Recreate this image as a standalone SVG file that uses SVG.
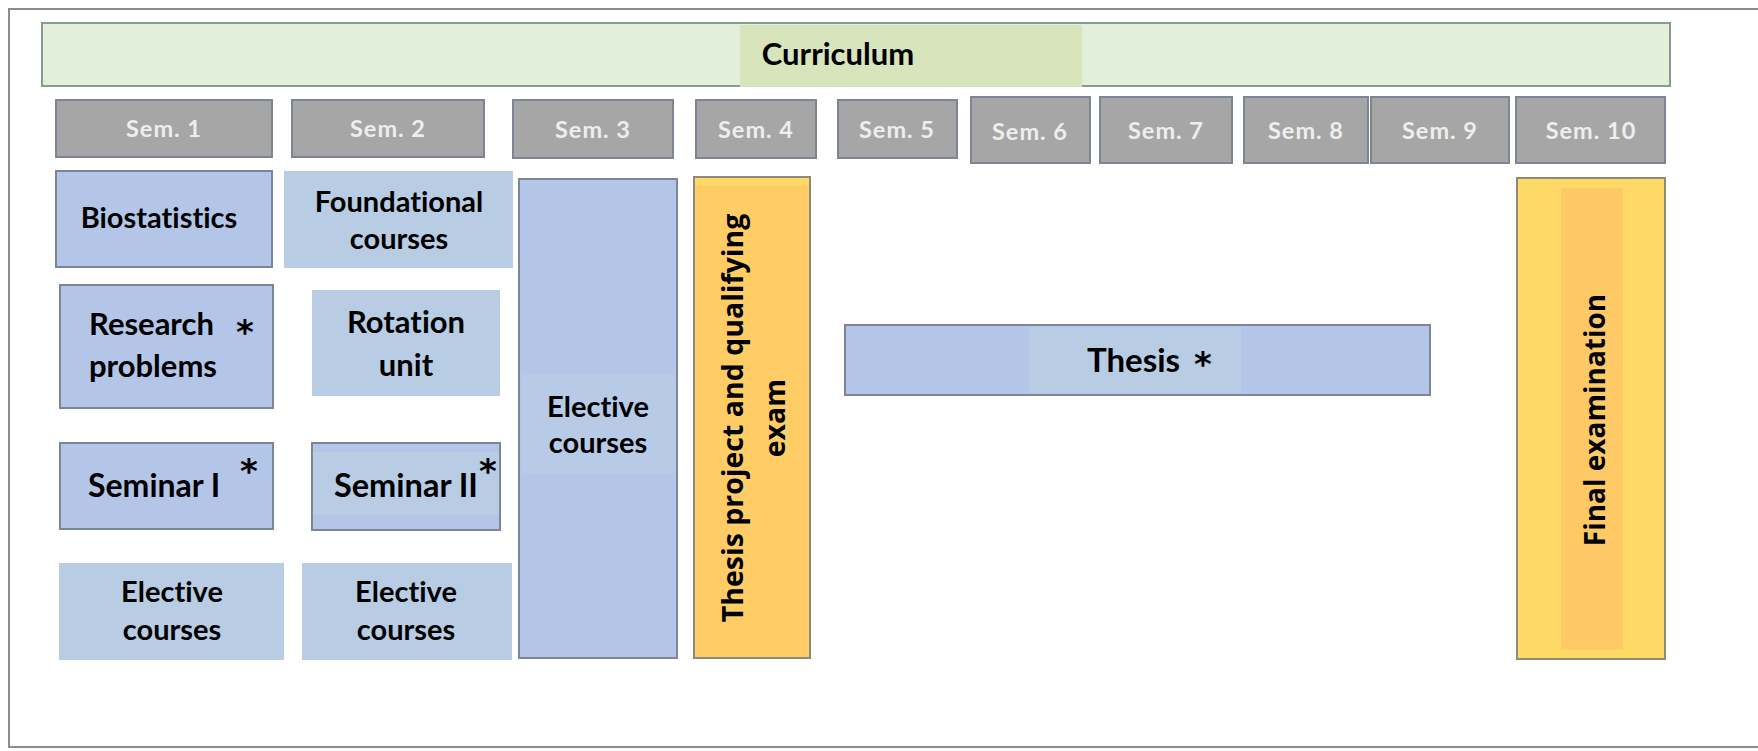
<svg xmlns="http://www.w3.org/2000/svg" width="1758" height="751" viewBox="0 0 1758 751">
<style>
.frame{fill:#ffffff;stroke:#8c8c8c;stroke-width:2}
.sem{fill:#a6a6a6;stroke:#7d8590;stroke-width:2}
.semt{font-family:Lato,"Open Sans",sans-serif;font-weight:bold;font-size:23.5px;fill:#eeeeee;text-anchor:middle;letter-spacing:1px}
.blue{fill:#b4c6e7;stroke:#7b8799;stroke-width:2}
.blue2{fill:#b8cce4;stroke:none}
.lbl{font-family:Lato,"Liberation Sans",sans-serif;font-weight:bold;font-size:29px;fill:#000;font-variant-ligatures:none;font-feature-settings:"liga" 0}
.ast{font-family:"DejaVu Sans",sans-serif;font-weight:bold;font-size:34px;fill:#000}
.mid{text-anchor:middle}
.vt{font-family:"Open Sans","DejaVu Sans",sans-serif;font-weight:bold;font-size:28.5px;fill:#000;text-anchor:middle}
.yel{fill:#ffcc66;stroke:#8c8a78;stroke-width:2}
.yel2{fill:#ffd966;stroke:#8c8a78;stroke-width:2}
</style>
<rect class="frame" x="9" y="9" width="1780" height="738"/>
<g id="curriculum">
<rect x="42" y="23" width="1628" height="63" fill="#e2efda" stroke="#8a9a8c" stroke-width="2"/>
<rect x="740" y="25" width="342" height="62" fill="#d8e4bc"/>
<text class="lbl mid" x="838" y="65" style="font-size:31px">Curriculum</text>
</g>
<g id="sem1"><rect class="sem" x="56" y="100" width="216" height="57"/><text class="semt" x="164" y="137">Sem. 1</text></g>
<g id="sem2"><rect class="sem" x="292" y="100" width="192" height="57"/><text class="semt" x="388" y="137">Sem. 2</text></g>
<g id="sem3"><rect class="sem" x="513" y="100" width="160" height="58"/><text class="semt" x="593" y="138">Sem. 3</text></g>
<g id="sem4"><rect class="sem" x="696" y="100" width="120" height="58"/><text class="semt" x="756" y="138">Sem. 4</text></g>
<g id="sem5"><rect class="sem" x="838" y="100" width="119" height="58"/><text class="semt" x="897" y="138">Sem. 5</text></g>
<g id="sem6"><rect class="sem" x="971" y="97" width="119" height="66"/><text class="semt" x="1030" y="140">Sem. 6</text></g>
<g id="sem7"><rect class="sem" x="1100" y="97" width="132" height="66"/><text class="semt" x="1166" y="139">Sem. 7</text></g>
<g id="sem8"><rect class="sem" x="1244" y="97" width="124" height="66"/><text class="semt" x="1306" y="139">Sem. 8</text></g>
<g id="sem9"><rect class="sem" x="1371" y="97" width="138" height="66"/><text class="semt" x="1440" y="139">Sem. 9</text></g>
<g id="sem10"><rect class="sem" x="1516" y="97" width="149" height="66"/><text class="semt" x="1591" y="139">Sem. 10</text></g>
<g id="biostatistics">
<rect class="blue" x="56" y="171" width="216" height="96"/>
<text class="lbl mid" x="159" y="228">Biostatistics</text>
</g>
<g id="foundational">
<rect class="blue2" x="284" y="171" width="229" height="97"/>
<text class="lbl mid" x="399" y="212">Foundational</text>
<text class="lbl mid" x="399" y="249">courses</text>
</g>
<g id="research">
<rect class="blue" x="60" y="285" width="213" height="123"/>
<text class="lbl" x="89" y="335" style="font-size:31px">Research</text>
<text class="lbl" x="89" y="377" style="font-size:31px">problems</text>
<text class="ast" x="236" y="344">*</text>
</g>
<g id="rotation">
<rect class="blue2" x="312" y="290" width="188" height="106" stroke="#c9d3e0" stroke-width="1"/>
<text class="lbl mid" x="406" y="333" style="font-size:31px">Rotation</text>
<text class="lbl mid" x="406" y="376" style="font-size:31px">unit</text>
</g>
<g id="seminar1">
<rect class="blue" x="60" y="443" width="213" height="86"/>
<text class="lbl" x="88" y="497" style="font-size:32px">Seminar I</text>
<text class="ast" x="240" y="483">*</text>
</g>
<g id="seminar2">
<rect class="blue" x="312" y="443" width="188" height="87"/>
<rect class="blue2" x="313" y="452" width="186" height="63"/>
<text class="lbl mid" x="406" y="497" style="font-size:32.5px">Seminar II</text>
<text class="ast" x="479" y="483">*</text>
</g>
<g id="elective1">
<rect class="blue2" x="59" y="563" width="225" height="97"/>
<text class="lbl mid" x="172" y="602">Elective</text>
<text class="lbl mid" x="172" y="640">courses</text>
</g>
<g id="elective2">
<rect class="blue2" x="302" y="563" width="210" height="97"/>
<text class="lbl mid" x="406" y="602">Elective</text>
<text class="lbl mid" x="406" y="640">courses</text>
</g>
<g id="elective3">
<rect class="blue" x="519" y="179" width="158" height="479"/>
<rect x="521" y="375" width="155" height="98" fill="#b7cae6"/>
<text class="lbl mid" x="598" y="417">Elective</text>
<text class="lbl mid" x="598" y="453">courses</text>
</g>
<g id="thesis-project">
<rect class="yel" x="694" y="177" width="116" height="481"/>
<rect x="695" y="178" width="114" height="8" fill="#ffd966"/>
<text class="vt" transform="translate(743,418) rotate(-90)">Thesis project and qualifying<tspan x="0" dy="42">exam</tspan></text>
</g>
<g id="thesis">
<rect class="blue" x="845" y="325" width="585" height="70"/>
<rect class="blue2" x="1029" y="327" width="212" height="66"/>
<text class="lbl" x="1087" y="372" style="font-size:33px">Thesis</text>
<text class="ast" x="1194" y="376">*</text>
</g>
<g id="final-exam">
<rect class="yel2" x="1517" y="178" width="148" height="481"/>
<rect x="1561" y="188" width="62" height="462" fill="#ffca66"/>
<text class="vt" style="font-size:28px" transform="translate(1605,420) rotate(-90)">Final examination</text>
</g>
<g id="connectors"></g>
</svg>
